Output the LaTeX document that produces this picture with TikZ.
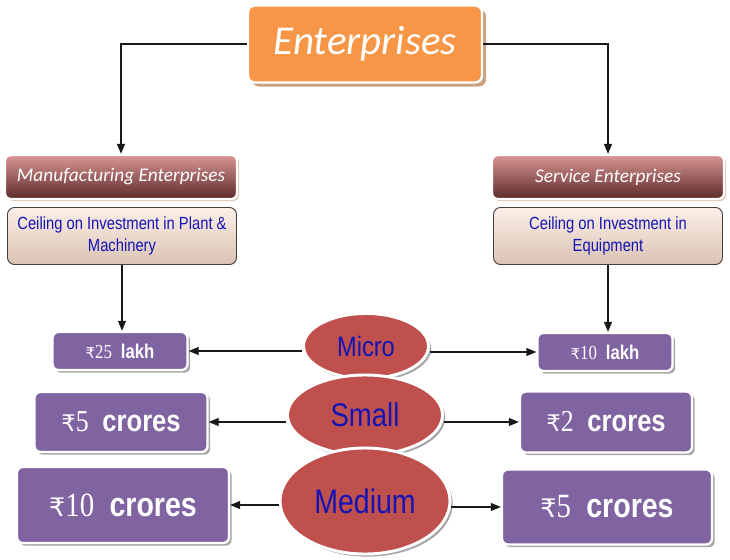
\documentclass[tikz,border=0pt]{standalone}
\usepackage{fontspec}
\setmainfont{Liberation Sans}
\newfontfamily\headfont{Carlito}
\newfontfamily\narrowfont{Liberation Sans}[FakeStretch=0.84]
\newfontfamily\digitfont{Liberation Serif}[FakeStretch=0.85]
\newfontfamily\rupeefont{DejaVu Sans}
\usepackage{tikz}
\usetikzlibrary{arrows.meta,positioning,shapes.geometric,shadows}

\definecolor{entorange}{HTML}{F79646}
\definecolor{entshadow}{HTML}{C9A284}
\definecolor{hdtop}{HTML}{D99694}
\definecolor{hdbot}{HTML}{5C2A2A}
\definecolor{ceiltop}{HTML}{FCEFE7}
\definecolor{ceilbot}{HTML}{DAC3B4}
\definecolor{amtpurple}{HTML}{8064A2}
\definecolor{sizered}{HTML}{C0504D}
\definecolor{sizeblue}{HTML}{1414B4}

\newcommand{\amt}[2]{{\rupeefont\scalebox{0.75}{₹}}{\digitfont #1}\hspace{0.45em}{\bfseries #2}}
\newcommand{\fsz}[1]{\fontsize{#1}{#1}\selectfont}

\begin{document}
\begin{tikzpicture}[x=0.03cm, y=-0.03cm,
  topbox/.style={draw=white, line width=2pt, rounded corners=6pt, fill=entorange, text=white,
                 drop shadow={shadow xshift=1.2mm, shadow yshift=-1.2mm, fill=entshadow, opacity=1}},
  headbox/.style={draw=white, line width=2pt, rounded corners=5pt, top color=hdtop, bottom color=hdbot,
                  text=white, font={\headfont\itshape\fsz{16.5}},
                  minimum width=6.96cm, minimum height=1.32cm,
                  drop shadow={shadow xshift=0.6mm, shadow yshift=-0.6mm, fill=entshadow!60, opacity=1}},
  ceilbox/.style={draw=black!75, line width=0.8pt, rounded corners=6pt, top color=ceiltop, bottom color=ceilbot,
                  text=sizeblue, align=center, font={\narrowfont\fontsize{15}{19.5}\selectfont},
                  minimum width=6.87cm, minimum height=1.71cm, inner sep=2pt},
  amtbox/.style={draw=white, line width=2pt, rounded corners=5pt, fill=amtpurple, text=white,
                 drop shadow={shadow xshift=0.8mm, shadow yshift=-0.8mm, fill=black!35, opacity=1}},
  sizeell/.style={ellipse, draw=white, line width=2.5pt, fill=sizered, text=sizeblue, inner sep=0pt,
                  drop shadow={shadow xshift=0.8mm, shadow yshift=-0.8mm, fill=black!35, opacity=1}},
  ar/.style={-{Triangle[length=3mm, width=2.4mm]}, line width=0.9pt, black!90}
]
\useasboundingbox (0,0) rectangle (730,559);

% --- top level ----------------------------------------------------------
\node[topbox, minimum width=7.02cm, minimum height=2.31cm, font={\headfont\itshape\fsz{35}}]
  (ent) at (365,44) {Enterprises};

% --- the two sectors ----------------------------------------------------
\node[headbox] (manu) at (121,177) {Manufacturing Enterprises};
\node[headbox] (serv) at (608,177) {Service Enterprises};
\node[ceilbox] (ceilL) at (122,236) {Ceiling on Investment in Plant \&\\Machinery};
\node[ceilbox] (ceilR) at (608,236) {Ceiling on Investment in\\Equipment};

\draw[ar] (ent.west) -| (manu.north);
\draw[ar] (ent.east) -| (serv.north);

% --- ceilings -----------------------------------------------------------
\node[amtbox, minimum width=4.05cm, minimum height=1.14cm, font={\narrowfont\fsz{17}}]
  (lakhL) at (120,351) {\amt{25}{lakh}};
\node[amtbox, minimum width=4.05cm, minimum height=1.14cm, font={\narrowfont\fsz{17}}]
  (lakhR) at (605,352) {\amt{10}{lakh}};
\node[amtbox, minimum width=5.19cm, minimum height=1.8cm, font={\narrowfont\fsz{26}}]
  (croL) at (121,422) {\amt{5}{crores}};
\node[amtbox, minimum width=5.16cm, minimum height=1.83cm, font={\narrowfont\fsz{26}}]
  (croR) at (606,422) {\amt{2}{crores}};
\node[amtbox, minimum width=6.36cm, minimum height=2.28cm, font={\narrowfont\fsz{29}}]
  (tenL) at (123,505) {\amt{10}{crores}};
\node[amtbox, minimum width=6.3cm, minimum height=2.25cm, font={\narrowfont\fsz{29}}]
  (fiveR) at (607,507) {\amt{5}{crores}};

\draw[ar] (ceilL.south) -- (ceilL.south |- lakhL.north);
\draw[ar] (ceilR.south) -- (ceilR.south |- lakhR.north);

% --- enterprise sizes ---------------------------------------------------
\node[sizeell, minimum width=3.75cm, minimum height=1.95cm, font={\narrowfont\fsz{24}}]
  (micro) at (366,346) {Micro};
\node[sizeell, minimum width=4.65cm, minimum height=2.4cm, font={\narrowfont\fsz{28}}]
  (small) at (365,415) {Small};
\node[sizeell, minimum width=5.1cm, minimum height=3.18cm, font={\narrowfont\fsz{29}}]
  (medium) at (365,501) {Medium};

\draw[ar] (micro.west |- lakhL.east) -- (lakhL.east);
\draw[ar] (micro.east |- lakhR.west) -- (lakhR.west);
\draw[ar] (small.west |- croL.east) -- (croL.east);
\draw[ar] (small.east |- croR.west) -- (croR.west);
\draw[ar] (medium.west |- tenL.east) -- (tenL.east);
\draw[ar] (medium.east |- fiveR.west) -- (fiveR.west);
\end{tikzpicture}
\end{document}
